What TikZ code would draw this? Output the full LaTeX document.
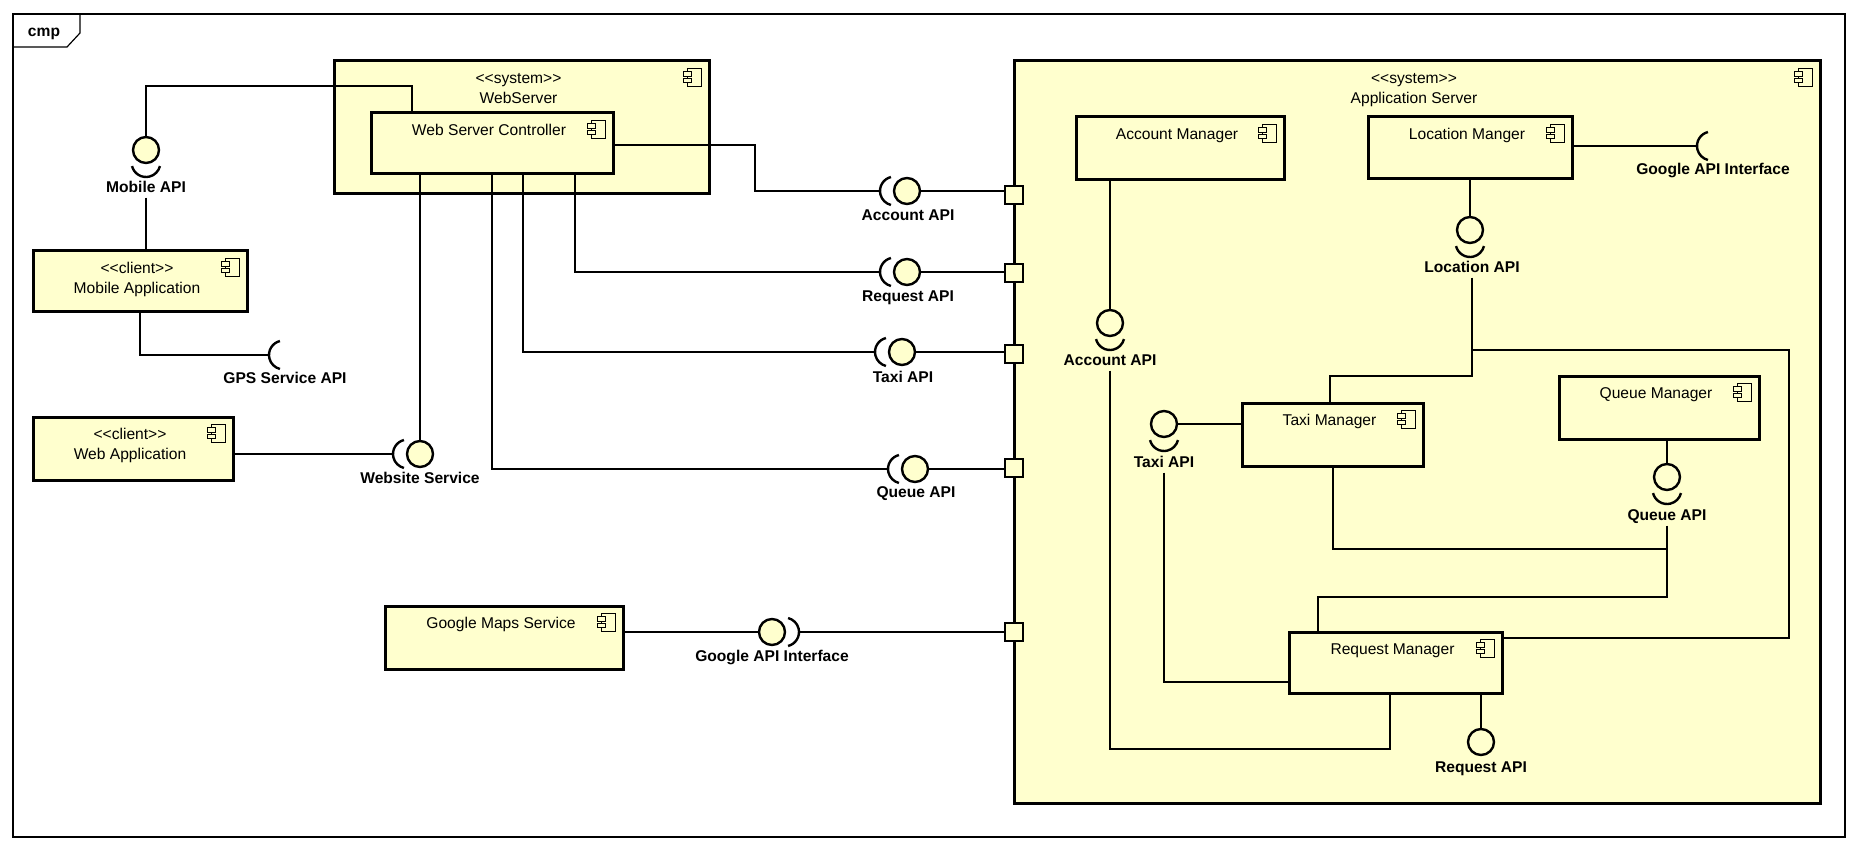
\documentclass[tikz,border=0pt]{standalone}
\usepackage{fontspec}
\setmainfont{Liberation Sans}
\usetikzlibrary{fit}
\definecolor{compfill}{RGB}{255,255,206}

% component box: name, left, top, right, bottom (pixel units)
\newcommand\cbox[5]{\node[comp, fit={(#2,#3)(#4,#5)}] (#1) {};}
% small UML component icon in the top right corner of a box
\newcommand\cicon[1]{%
  \begin{scope}[shift={([xshift=-4.5pt,yshift=-4.5pt]#1.north east)}, x=1pt, y=1pt]
    \draw[line width=0.5pt, fill=compfill] (-7,0) rectangle (0,-9);
    \draw[line width=0.5pt, fill=compfill] (-9,-1.7) rectangle (-5,-4.1);
    \draw[line width=0.5pt, fill=compfill] (-9,-5) rectangle (-5,-7.2);
  \end{scope}}
% box titles
\newcommand\cname[2]{\node[ctext] (#1-t) at ([xshift=-1.5pt,yshift=-10pt]#1.north) {#2};}
\newcommand\cstereo[3]{%
  \node[ctext] (#1-s) at ([xshift=-1.5pt,yshift=-9.8pt]#1.north) {#2};
  \node[ctext] (#1-t) at ([xshift=-1.5pt,yshift=-19.9pt]#1.north) {#3};}
% sockets (required interfaces) around a centre point
\newcommand\sockL[1]{\draw[sock] ([xshift=-6.3pt]#1) ++(104:7.2pt) arc[start angle=104, end angle=256, radius=7.2pt];}
\newcommand\sockR[1]{\draw[sock] ([xshift=6.3pt]#1) ++(-76:7.2pt) arc[start angle=-76, end angle=76, radius=7.2pt];}
\newcommand\sockD[1]{\draw[sock] ([yshift=-6.3pt]#1) ++(194:7.2pt) arc[start angle=194, end angle=346, radius=7.2pt];}

\begin{document}
\begin{tikzpicture}[x=0.5pt,y=-0.5pt,
  every node/.style={font=\fontsize{7.8}{9}\selectfont},
  comp/.style={draw, line width=1.5pt, fill=compfill, inner sep=0pt},
  ctext/.style={inner sep=0pt, text height=6pt, text depth=1.7pt},
  wire/.style={line width=0.6pt},
  ball/.style={circle, draw, line width=1.2pt, fill=compfill, minimum size=13pt, inner sep=0pt},
  sock/.style={line width=1.2pt},
  port/.style={draw, line width=1.3pt, fill=compfill, minimum size=9pt, inner sep=0pt},
  lbl/.style={font=\fontsize{7.8}{9}\selectfont\bfseries, inner sep=1pt, text height=5.8pt, text depth=1.5pt},
]
\useasboundingbox (0,0) rectangle (1858,850);
\fill[white] (0,0) rectangle (1858,850);

% diagram frame
\draw[wire] (13,14) rectangle (1845,837);
\draw[wire] (13,47) -- (67,47) -- (80,33) -- (80,14);
\node[lbl] (frame-t) at (44,32) {cmp};

% systems
\cbox{ws}{334}{61}{709}{194}
\cbox{as}{1014}{61}{1820}{803}
\cicon{ws}\cicon{as}
\cstereo{ws}{<{}<system>{}>}{WebServer}
\cstereo{as}{<{}<system>{}>}{Application Server}

% components
\cbox{wsc}{371}{113}{613}{174}
\cbox{mapp}{33}{251}{247}{312}
\cbox{wapp}{33}{417}{233}{480}
\cbox{gms}{385}{606}{623}{669}
\cbox{am}{1076}{117}{1284}{180}
\cbox{lm}{1368}{117}{1572}{179}
\cbox{tm}{1242}{403}{1423}{466}
\cbox{qm}{1559}{376}{1759}{439}
\cbox{rm}{1289}{632}{1502}{693}
\cicon{wsc}\cicon{mapp}\cicon{wapp}\cicon{gms}\cicon{am}\cicon{lm}\cicon{tm}\cicon{qm}\cicon{rm}
\cname{wsc}{Web Server Controller}
\cstereo{mapp}{<{}<client>{}>}{Mobile Application}
\cstereo{wapp}{<{}<client>{}>}{Web Application}
\cname{gms}{Google Maps Service}
\cname{am}{Account Manager}
\cname{lm}{Location Manger}
\cname{tm}{Taxi Manager}
\cname{qm}{Queue Manager}
\cname{rm}{Request Manager}

% ports on the application server
\node[port] (pAcc) at (1014,195) {};
\node[port] (pReq) at (1014,273) {};
\node[port] (pTax) at (1014,354) {};
\node[port] (pQue) at (1014,468) {};
\node[port] (pG)   at (1014,632) {};

% provided interfaces
\node[ball] (mobB) at (146,150) {};
\node[ball] (wssB) at (420,454) {};
\node[ball] (accO) at (907,191) {};
\node[ball] (reqO) at (907,272) {};
\node[ball] (taxO) at (902,352) {};
\node[ball] (queO) at (915,469) {};
\node[ball] (gB)   at (772,632) {};
\node[ball] (accI) at (1110,323) {};
\node[ball] (locI) at (1470,230) {};
\node[ball] (taxI) at (1164,424) {};
\node[ball] (queI) at (1667,477) {};
\node[ball] (reqI) at (1481,742) {};
\coordinate (gpsC) at (296,355);
\coordinate (gLC) at (1724,146);

% interface labels
\node[lbl] (mobL) at (146,188) {Mobile API};
\node[lbl] (wssL) at (420,479) {Website Service};
\node[lbl] (accOL) at (908,216) {Account API};
\node[lbl] (reqOL) at (908,297) {Request API};
\node[lbl] (taxOL) at (903,378) {Taxi API};
\node[lbl] (queOL) at (916,493) {Queue API};
\node[lbl] (gBL) at (772,657) {Google API Interface};
\node[lbl] (accL) at (1110,361) {Account API};
\node[lbl] (locL) at (1472,268) {Location API};
\node[lbl] (taxL) at (1164,463) {Taxi API};
\node[lbl] (queL) at (1667,516) {Queue API};
\node[lbl] (reqL) at (1481,768) {Request API};
\node[lbl] (gpsL) at (285,379) {GPS Service API};
\node[lbl] (gLL) at (1713,170) {Google API Interface};

% connectors outside the application server
\draw[wire] (wsc.north -| 412,0) -- (412,86) -| (mobB.north);
\draw[wire] (mobL.south) -- (mobL.south |- mapp.north);
\draw[wire] (mapp.south) |- ([xshift=-13.5pt]gpsC);
\draw[wire] (wapp.east |- wssB) -- ([xshift=-13.5pt]wssB.center);
\draw[wire] (wsc.south -| wssB) -- (wssB.north);
\draw[wire] (wsc.south -| 492,0) |- ([xshift=-13.5pt]queO.center);
\draw[wire] (wsc.south -| 523,0) |- ([xshift=-13.5pt]taxO.center);
\draw[wire] (wsc.south -| 575,0) |- ([xshift=-13.5pt]reqO.center);
\draw[wire] (wsc.east |- 0,145) -- (755,145) |- ([xshift=-13.5pt]accO.center);
\draw[wire] (accO.east) -- (accO.east -| pAcc.west);
\draw[wire] (reqO.east) -- (reqO.east -| pReq.west);
\draw[wire] (taxO.east) -- (taxO.east -| pTax.west);
\draw[wire] (queO.east) -- (queO.east -| pQue.west);
\draw[wire] (gms.east |- gB) -- (gB.west);
\draw[wire] ([xshift=13.5pt]gB.center) -- (gB.center -| pG.west);

% connectors inside the application server
\draw[wire] (am.south -| accI) -- (accI.north);
\draw[wire] (accL.south) -- (accL.south |- 0,749) -| (rm.south -| 1390,0);
\draw[wire] (lm.south -| locI) -- (locI.north);
\draw[wire] (lm.east |- gLC) -- ([xshift=-13.5pt]gLC);
\draw[wire] (locL.south) -- (locL.south |- 0,350) coordinate (jn) -| (1789,638) -- (rm.east |- 0,638);
\draw[wire] (jn) |- (1330,376) -- (tm.north -| 1330,0);
\draw[wire] (taxI.east) -- (taxI.east -| tm.west);
\draw[wire] (taxL.south) |- (rm.west |- 0,682);
\draw[wire] (tm.south -| 1333,0) |- (queL.south |- 0,549);
\draw[wire] (qm.south -| queI) -- (queI.north);
\draw[wire] (queL.south) |- (1318,597) -- (rm.north -| 1318,0);
\draw[wire] (rm.south -| reqI) -- (reqI.north);

% sockets
\sockD{mobB.center}
\sockL{gpsC}
\sockL{wssB.center}
\sockL{accO.center}
\sockL{reqO.center}
\sockL{taxO.center}
\sockL{queO.center}
\sockR{gB.center}
\sockD{accI.center}
\sockD{locI.center}
\sockD{taxI.center}
\sockD{queI.center}
\sockL{gLC}
\end{tikzpicture}
\end{document}
